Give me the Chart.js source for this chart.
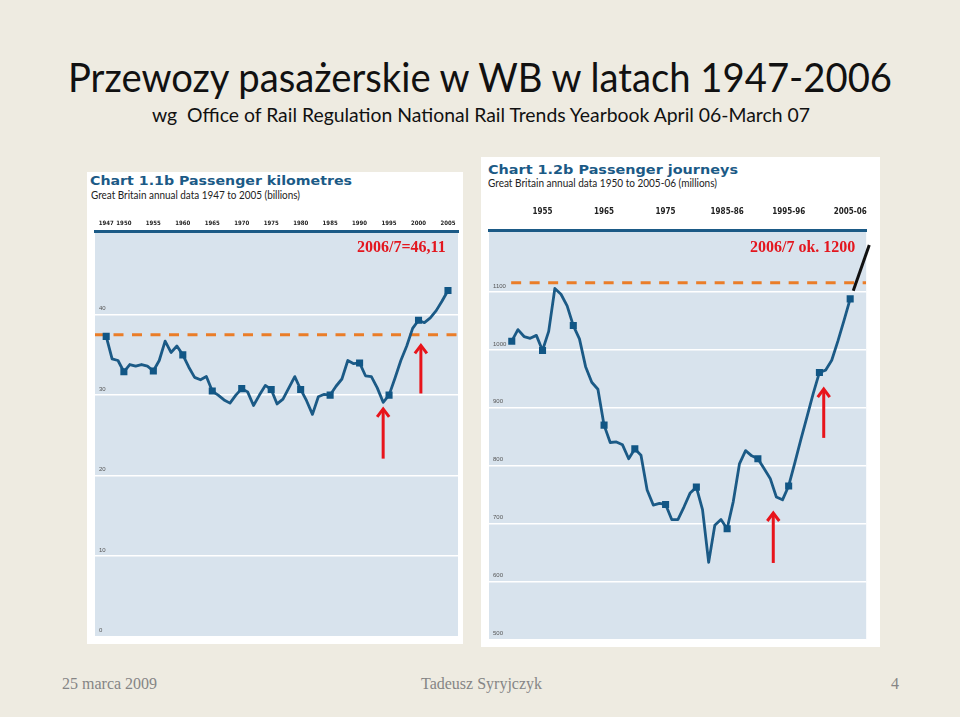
<!DOCTYPE html>
<html>
<head>
<meta charset="utf-8">
<script src="https://cdn.jsdelivr.net/npm/chart.js@4.4.1/dist/chart.umd.min.js"></script>
<style>
  body { margin: 0; width: 960px; height: 717px; overflow: hidden; position: relative; background: #eeebe1; font-family: Lato, "Open Sans", sans-serif; }
  .abs { position: absolute; white-space: nowrap; line-height: 1; transform-origin: 0 0; }
  .panel { position: absolute; background: #fff; }
  .box { position: absolute; }
  .ctitle { font-family: "DejaVu Sans", sans-serif; font-weight: bold; color: #1b5a86; font-size: 13px; }
  .csub { font-family: Lato, sans-serif; color: #222; font-size: 11px; }
  .red { font-family: "Liberation Serif", "Times New Roman", serif; font-weight: bold; color: #e3161e; font-size: 16px; }
  .foot { font-family: "Liberation Serif", "Times New Roman", serif; color: #858585; font-size: 16px; }
</style>
</head>
<body>
<div class="abs" id="t1" style="left:68px; top:57px; font-size:40px; color:#111;">Przewozy pasażerskie w WB w latach 1947-2006</div>
<div class="abs" id="t2" style="left:152px; top:104px; font-size:20px; color:#111;">wg&nbsp; Office of Rail Regulation National Rail Trends Yearbook April 06-March 07</div>

<div class="panel" style="left:87px; top:172px; width:376px; height:472px;"></div>
<div class="panel" style="left:481px; top:157px; width:399px; height:490px;"></div>

<div class="abs ctitle" id="c1t" style="left:90px; top:174px;">Chart 1.1b Passenger kilometres</div>
<div class="abs csub" id="c1s" style="left:91px; top:189px;">Great Britain annual data 1947 to 2005 (billions)</div>
<div class="abs ctitle" id="c2t" style="left:488px; top:163px;">Chart 1.2b Passenger journeys</div>
<div class="abs csub" id="c2s" style="left:488px; top:177px;">Great Britain annual data 1950 to 2005-06 (millions)</div>

<div class="box" style="left:87px; top:200px; width:376px; height:444px;"><canvas id="kmChart"></canvas></div>
<div class="box" style="left:481px; top:190px; width:399px; height:457px;"><canvas id="jrChart"></canvas></div>

<div class="abs red" id="r1" style="left:357px; top:239px;">2006/7=46,11</div>
<div class="abs red" id="r2" style="left:750px; top:239px;">2006/7 ok. 1200</div>

<div class="abs foot" style="left:62px; top:676px;">25 marca 2009</div>
<div class="abs foot" style="left:421px; top:676px;">Tadeusz Syryjczyk</div>
<div class="abs foot" style="left:891px; top:676px;">4</div>

<script>
// pasażerokilometry (mld), 1947-2005
const kmYears = [1947, 1948, 1949, 1950, 1951, 1952, 1953, 1954, 1955, 1956, 1957, 1958, 1959,
    1960, 1961, 1962, 1963, 1964, 1965, 1966, 1967, 1968, 1969, 1970, 1971, 1972, 1973, 1974,
    1975, 1976, 1977, 1978, 1979, 1980, 1981, 1982, 1983, 1984, 1985, 1986, 1987, 1988, 1989,
    1990, 1991, 1992, 1993, 1994, 1995, 1996, 1997, 1998, 1999, 2000, 2001, 2002, 2003, 2004, 2005];
const kmValues = [37.3, 34.5, 34.3, 32.9, 33.8, 33.6, 33.8, 33.6, 33.0, 34.3, 36.7, 35.3, 36.1,
    35.0, 33.5, 32.2, 31.9, 32.3, 30.5, 30.0, 29.4, 29.0, 30.0, 30.8, 30.4, 28.7, 30.0, 31.2,
    30.7, 28.9, 29.5, 30.9, 32.3, 30.7, 29.3, 27.6, 29.8, 30.1, 30.0, 31.1, 32.0, 34.3, 33.9,
    34.0, 32.4, 32.3, 30.9, 29.1, 30.0, 32.1, 34.3, 36.1, 38.3, 39.3, 39.0, 39.6, 40.5, 41.7, 43.0];
const kmMarkerYears = [1947, 1950, 1955, 1960, 1965, 1970, 1975, 1980, 1985, 1990, 1995, 2000, 2005];
const kmTickYears = [1947, 1950, 1955, 1960, 1965, 1970, 1975, 1980, 1985, 1990, 1995, 2000, 2005];
const kmYTicks = [0, 10, 20, 30, 40];
const kmRef = 37.5;

// liczba podróży (mln), 1950-2005/06
const jrYears = [1950, 1951, 1952, 1953, 1954, 1955, 1956, 1957, 1958, 1959,
    1960, 1961, 1962, 1963, 1964, 1965, 1966, 1967, 1968, 1969, 1970, 1971, 1972, 1973, 1974,
    1975, 1976, 1977, 1978, 1979, 1980, 1981, 1982, 1983, 1984, 1985, 1986, 1987, 1988, 1989,
    1990, 1991, 1992, 1993, 1994, 1995, 1996, 1997, 1998, 1999, 2000, 2001, 2002, 2003, 2004, 2005];
const jrValues = [1015, 1035, 1023, 1020, 1025, 999, 1032, 1106, 1096, 1076,
    1042, 1019, 971, 944, 932, 870, 840, 841, 836, 812, 829, 818, 758, 732, 735,
    733, 707, 707, 729, 753, 763, 724, 633, 697, 707, 691, 738, 803, 826, 817,
    812, 795, 778, 746, 741, 765, 805, 846, 885, 925, 961, 965, 982, 1015, 1051, 1088];
const jrMarkerYears = [1950, 1955, 1960, 1965, 1970, 1975, 1980, 1985, 1990, 1995, 2000, 2005];
const jrTickYears = [1955, 1965, 1975, 1985, 1995, 2005];
const jrTickLabels = ['1955', '1965', '1975', '1985-86', '1995-96', '2005-06'];
const jrYTicks = [500, 600, 700, 800, 900, 1000, 1100];
const jrRef = 1116;

// strzałki i dopiski (w jednostkach danych)
const kmArrows = [{ at: 1994, from: 22.1, to: 28.4 }, { at: 2000.4, from: 30.2, to: 36.3 }];
const jrArrows = [{ at: 1992.5, from: 632, to: 720 }, { at: 2000.7, from: 848, to: 934 }];
const jrTrend = [{ x: 2005.5, y: 1102 }, { x: 2008.1, y: 1181 }];

const lineBlue = '#1b5a86';

const plotBg = {
    id: 'plotBg',
    beforeDraw(chart) {
        const a = chart.chartArea, c = chart.ctx;
        c.save();
        c.fillStyle = '#d8e3ed';
        c.fillRect(a.left, a.top, a.right - a.left, a.bottom - a.top);
        c.restore();
    }
};

const marks = {
    id: 'marks',
    afterDatasetsDraw(chart, args, opts) {
        const xs = chart.scales.x, ys = chart.scales.y, c = chart.ctx;
        c.save();
        (opts.arrows || []).forEach(a => {
            const px = xs.getPixelForValue(a.at);
            const y0 = ys.getPixelForValue(a.from), y1 = ys.getPixelForValue(a.to);
            c.strokeStyle = '#e8141b';
            c.lineWidth = 3;
            c.beginPath(); c.moveTo(px, y0); c.lineTo(px, y1 + 2); c.stroke();
            c.beginPath(); c.moveTo(px - 6, y1 + 9); c.lineTo(px, y1 + 1); c.lineTo(px + 6, y1 + 9); c.stroke();
        });
        if (opts.trend) {
            c.strokeStyle = '#111';
            c.lineWidth = 3;
            c.beginPath();
            c.moveTo(xs.getPixelForValue(opts.trend[0].x), ys.getPixelForValue(opts.trend[0].y));
            c.lineTo(xs.getPixelForValue(opts.trend[1].x), ys.getPixelForValue(opts.trend[1].y));
            c.stroke();
        }
        c.restore();
    }
};

function makeChart(id, cfg) {
    const pts = cfg.years.map((yr, i) => ({ x: yr, y: cfg.values[i] }));
    return new Chart(document.getElementById(id), {
        type: 'line',
        data: {
            datasets: [{
                data: pts,
                borderColor: lineBlue,
                borderWidth: 2.8,
                borderJoinStyle: 'round',
                tension: 0,
                pointStyle: 'rect',
                pointRadius: ctx => cfg.markers.includes(pts[ctx.dataIndex].x) ? 5 : 0,
                pointBackgroundColor: '#115685',
                pointBorderWidth: 0,
                order: 1
            }, {
                data: [{ x: cfg.refFrom, y: cfg.ref }, { x: cfg.xMax, y: cfg.ref }],
                borderColor: '#ea7d28',
                borderWidth: 3,
                borderDash: [10, 8.5],
                pointRadius: 0,
                order: 2
            }]
        },
        options: {
            responsive: true,
            maintainAspectRatio: false,
            animation: false,
            layout: { padding: cfg.padding },
            plugins: {
                legend: { display: false },
                tooltip: { enabled: false },
                marks: { arrows: cfg.arrows, trend: cfg.trend }
            },
            scales: {
                x: {
                    type: 'linear',
                    position: 'top',
                    min: cfg.xMin,
                    max: cfg.xMax,
                    afterBuildTicks: s => { s.ticks = cfg.xTicks.map(v => ({ value: v })); },
                    afterFit: s => { s.height = cfg.xHeight; },
                    ticks: {
                        autoSkip: false,
                        maxRotation: 0,
                        padding: cfg.xPad,
                        color: '#222',
                        font: { family: '"Liberation Sans Narrow", "DejaVu Sans Condensed", Arial, sans-serif', size: cfg.xFont, weight: 'bold' },
                        callback: v => cfg.xLabels ? cfg.xLabels[cfg.xTicks.indexOf(v)] : String(v)
                    },
                    grid: { display: false, drawTicks: false },
                    border: { display: true, color: lineBlue, width: 3 }
                },
                y: {
                    min: cfg.yMin,
                    max: cfg.yMax,
                    afterBuildTicks: s => { s.ticks = cfg.yTicks.map(v => ({ value: v })); },
                    afterFit: s => { s.width = 0; },
                    ticks: {
                        mirror: true,
                        padding: 4,
                        labelOffset: -6,
                        color: '#555',
                        font: { family: 'Arial, sans-serif', size: 6 },
                        callback: v => String(v)
                    },
                    grid: { color: '#ffffff', lineWidth: 1.5, drawTicks: false },
                    border: { display: false }
                }
            }
        },
        plugins: [plotBg, marks]
    });
}

makeChart('kmChart', {
    years: kmYears, values: kmValues, markers: kmMarkerYears,
    xTicks: kmTickYears, xMin: 1945.1, xMax: 2006.7, xHeight: 31, xPad: 4, xFont: 6,
    yTicks: kmYTicks, yMin: 0, yMax: 50.4,
    ref: kmRef, refFrom: 1945.1, arrows: kmArrows,
    padding: { left: 8, right: 5, top: 0, bottom: 1 }
});

makeChart('jrChart', {
    years: jrYears, values: jrValues, markers: jrMarkerYears,
    xTicks: jrTickYears, xLabels: jrTickLabels, xMin: 1946.3, xMax: 2007.6, xHeight: 40, xPad: 13, xFont: 8,
    yTicks: jrYTicks, yMin: 500, yMax: 1207,
    ref: jrRef, refFrom: 1949.9, arrows: jrArrows, trend: jrTrend,
    padding: { left: 8, right: 7, top: 0, bottom: 4 }
});

// dopasowanie szerokości napisów do oryginału
function fit(id, w) {
    const el = document.getElementById(id);
    el.style.transform = 'scaleX(' + (w / el.getBoundingClientRect().width) + ')';
}
fit('t1', 824);
fit('t2', 658);
fit('c1t', 262);
fit('c1s', 209);
fit('c2t', 250);
fit('c2s', 229);
</script>
</body>
</html>
